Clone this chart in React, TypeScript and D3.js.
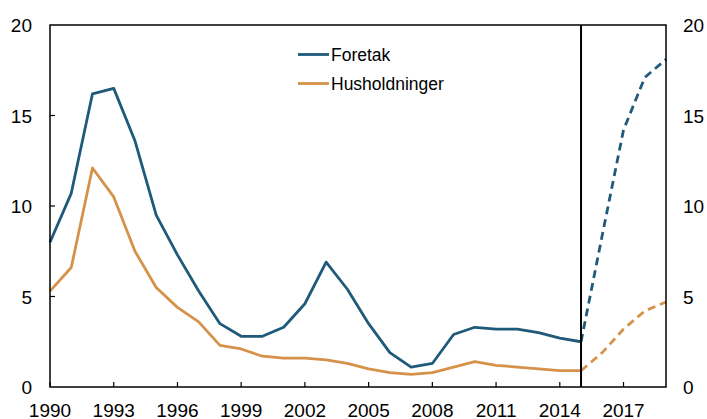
import React from "react";
import * as d3 from "d3";

const years: number[] = d3.range(1990, 2016);
const foretak: number[] = [8.0, 10.7, 16.2, 16.5, 13.6, 9.5, 7.3, 5.3, 3.5, 2.8, 2.8, 3.3, 4.6, 6.9, 5.4, 3.5, 1.9, 1.1, 1.3, 2.9, 3.3, 3.2, 3.2, 3.0, 2.7, 2.5];
const husholdninger: number[] = [5.3, 6.6, 12.1, 10.5, 7.5, 5.5, 4.4, 3.6, 2.3, 2.1, 1.7, 1.6, 1.6, 1.5, 1.3, 1.0, 0.8, 0.7, 0.8, 1.1, 1.4, 1.2, 1.1, 1.0, 0.9, 0.9];
const forecastYears: number[] = [2015, 2016, 2017, 2018, 2019];
const foretakForecast: number[] = [2.5, 8.4, 14.2, 17.1, 18.1];
const husholdningerForecast: number[] = [0.9, 1.9, 3.2, 4.2, 4.7];
const xTicks: number[] = [1990, 1993, 1996, 1999, 2002, 2005, 2008, 2011, 2014, 2017];
const yTicks: number[] = [0, 5, 10, 15, 20];
const seriesNames = ["Foretak", "Husholdninger"];
const colors = ["#1f5a7a", "#d6924a"];
const splitYear = 2015;

export default function App() {
  const W = 707, H = 419;
  const left = 50, right = 666, top = 25, bottom = 387;
  const x = d3.scaleLinear().domain([1990, 2019]).range([left, right]);
  const y = d3.scaleLinear().domain([0, 20]).range([bottom, top]);
  const line = d3.line<[number, number]>().x(d => x(d[0])).y(d => y(d[1]));
  const hist = [foretak, husholdninger];
  const fc = [foretakForecast, husholdningerForecast];
  const font = "'Liberation Sans', Arial, sans-serif";
  return (
    <div style={{ position: "absolute", left: 0, top: 0 }}>
      <svg width={W} height={H} style={{ display: "block" }}>
        <rect x={0} y={0} width={W} height={H} fill="#fff" />
        {hist.map((s, i) => (
          <path key={"h" + i} d={line(years.map((yr, j) => [yr, s[j]] as [number, number])) || ""}
            fill="none" stroke={colors[i]} strokeWidth={2.8} strokeLinejoin="round" />
        ))}
        {fc.map((s, i) => (
          <path key={"f" + i} d={line(forecastYears.map((yr, j) => [yr, s[j]] as [number, number])) || ""}
            fill="none" stroke={colors[i]} strokeWidth={2.8} strokeDasharray="8,5" />
        ))}
        <line x1={x(splitYear)} x2={x(splitYear)} y1={top} y2={bottom} stroke="#000" strokeWidth={2} />
        <rect x={left} y={top} width={right - left} height={bottom - top} fill="none" stroke="#000" strokeWidth={1.5} />
        {xTicks.map(t => (
          <g key={"xt" + t}>
            <line x1={x(t)} x2={x(t)} y1={bottom} y2={bottom - 5} stroke="#000" strokeWidth={1.2} />
            <text x={x(t)} y={416.5} textAnchor="middle" fontFamily={font} fontSize={19} fill="#000">{t}</text>
          </g>
        ))}
        {yTicks.map(t => (
          <g key={"yt" + t}>
            {t > 0 && t < 20 && <line x1={left} x2={left + 5} y1={y(t)} y2={y(t)} stroke="#000" strokeWidth={1.2} />}
            <text x={32} y={y(t) + 7} textAnchor="end" fontFamily={font} fontSize={19} fill="#000">{t}</text>
            <text x={683} y={y(t) + 7} textAnchor="start" fontFamily={font} fontSize={19} fill="#000">{t}</text>
          </g>
        ))}
        {seriesNames.map((n, i) => (
          <g key={"lg" + i}>
            <line x1={298} x2={329} y1={54.5 + i * 29} y2={54.5 + i * 29} stroke={colors[i]} strokeWidth={2.8} />
            <text x={331} y={54.5 + i * 29 + 6} fontFamily={font} fontSize={17.5} fill="#000">{n}</text>
          </g>
        ))}
      </svg>
    </div>
  );
}
